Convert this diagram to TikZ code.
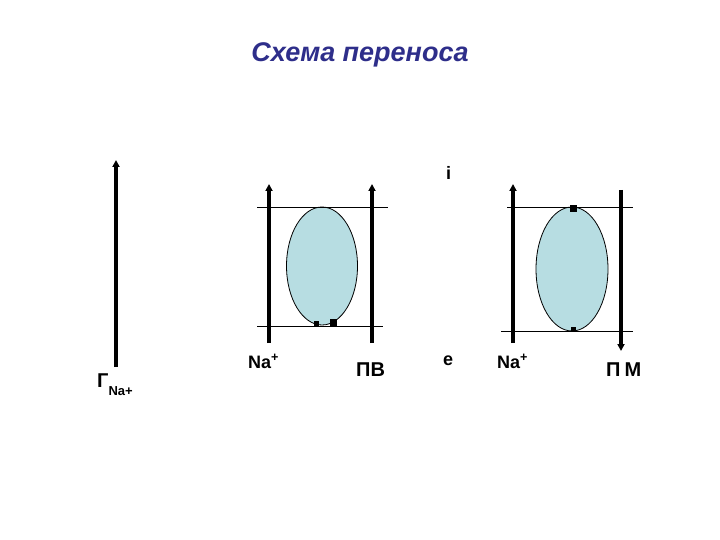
\documentclass[tikz,border=0pt]{standalone}
\usepackage{fontspec}
\setmainfont{Liberation Sans}
\usepackage{tikz}
\usetikzlibrary{arrows.meta,shapes.geometric,positioning}
\definecolor{titleblue}{RGB}{46,46,138}
\definecolor{cellblue}{RGB}{183,221,226}

\newcommand{\ion}{Na\textsuperscript{+}}

\begin{document}
\begin{tikzpicture}[x=1pt,y=-1pt]
	\tikzstyle{flow}=[line width=3.2pt,-{Triangle[length=7pt,width=7pt]}]
	\tikzstyle{membrane}=[line width=0.9pt]
	\tikzstyle{cell}=[ellipse,draw,fill=cellblue,line width=0.8pt,inner sep=0pt]
	\tikzstyle{site}=[rectangle,fill=black,inner sep=0pt]
	\tikzstyle{lbl}=[anchor=base west,inner sep=0pt,font=\fontsize{18}{20}\selectfont\bfseries]
	\useasboundingbox (0,0) rectangle (720,540);
	% title
	\node[anchor=base,inner sep=0pt,text=titleblue,font=\fontsize{27}{30}\selectfont\bfseries\itshape] (title) at (360,62) {Схема переноса};
	% gradient
	\coordinate (g0) at (116,367);
	\coordinate (g1) at (116,160);
	\draw[flow] (g0) -- (g1);
	\node[lbl] (grad) at (97,387) {\fontsize{20}{22}\selectfont Г\raisebox{-8pt}{\fontsize{13}{15}\selectfont Na+}};
	% left vesicle
	\node[cell,minimum width=71pt,minimum height=118pt] (cellA) at (322,266) {};
	\coordinate (a1) at (257,207);
	\coordinate (a2) at (388,207);
	\coordinate (a3) at (257,326);
	\coordinate (a4) at (383,326);
	\draw[membrane] (a1) -- (a2);
	\draw[membrane] (a3) -- (a4);
	\coordinate (na0) at (269,343);
	\coordinate (na1) at (269,184);
	\coordinate (pv0) at (372,343);
	\coordinate (pv1) at (372,184);
	\draw[flow] (na0) -- (na1);
	\draw[flow] (pv0) -- (pv1);
	\node[site,minimum size=5pt] (sA1) at (316,323) {};
	\node[site,minimum size=7pt] (sA2) at (333,322) {};
	\node[lbl] (ionA) at (248,368) {\ion};
	\node[lbl,font=\fontsize{20}{22}\selectfont\bfseries] (pv) at (356,376) {ПВ};
	% sides
	\node[lbl] (inside) at (446,180) {i};
	\node[lbl] (outside) at (443,365) {e};
	% right vesicle
	\node[cell,minimum width=72pt,minimum height=124pt] (cellB) at (572,269) {};
	\coordinate (b1) at (507,207);
	\coordinate (b2) at (633,207);
	\coordinate (b3) at (501,331);
	\coordinate (b4) at (633,331);
	\draw[membrane] (b1) -- (b2);
	\draw[membrane] (b3) -- (b4);
	\coordinate (nb0) at (513,343);
	\coordinate (nb1) at (513,184);
	\coordinate (pm0) at (621,190);
	\coordinate (pm1) at (621,351);
	\draw[flow] (nb0) -- (nb1);
	\draw[flow] (pm0) -- (pm1);
	\node[site,minimum size=7pt] (sB1) at (573,209) {};
	\node[site,minimum size=5pt] (sB2) at (573,329) {};
	\node[lbl] (ionB) at (497,368) {\ion};
	\node[lbl,font=\fontsize{20}{22}\selectfont\bfseries] (pm) at (606,376) {П\kern4ptМ};
\end{tikzpicture}
\end{document}
